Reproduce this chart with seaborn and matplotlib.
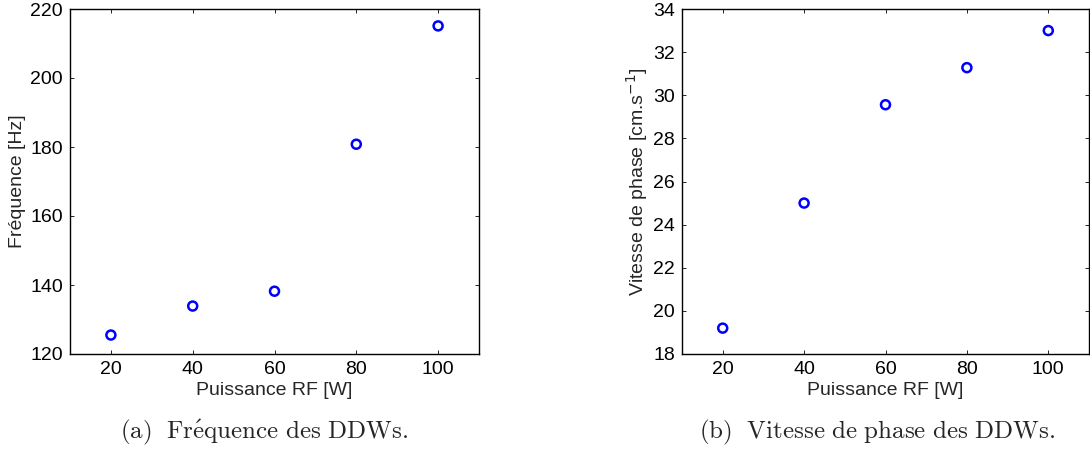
import matplotlib
matplotlib.use("Agg")
import matplotlib.pyplot as plt
import seaborn as sns
import pandas as pd

# donnees
puissance = [20, 40, 60, 80, 100]
frequence = [125.5, 133.9, 138.2, 180.8, 215.1]
vitesse = [19.2, 25.0, 29.56, 31.28, 33.0]

sns.set_style("ticks")
plt.rcParams["font.family"] = ["Liberation Sans", "DejaVu Sans"]
plt.rcParams.update({
    "xtick.direction": "in", "ytick.direction": "in",
    "xtick.top": True, "ytick.right": True,
    "xtick.major.size": 3, "ytick.major.size": 3,
    "xtick.major.width": 0.6, "ytick.major.width": 0.6,
    "axes.linewidth": 1.0, "axes.edgecolor": "black",
    "xtick.color": "black", "ytick.color": "black",
    "font.size": 14,
})

df = pd.DataFrame({"P": puissance, "f": frequence, "v": vitesse})

fig = plt.figure(figsize=(10.9, 4.51), dpi=100)
ax1 = fig.add_axes([70 / 1090, 97 / 451, 409 / 1090, 345 / 451])
ax2 = fig.add_axes([682 / 1090, 97 / 451, 407 / 1090, 345 / 451])

for ax, col in [(ax1, "f"), (ax2, "v")]:
    sns.scatterplot(data=df, x="P", y=col, ax=ax, marker="o", s=42,
                    facecolors="none", edgecolor="#0000ff", linewidth=1.8)
    ax.set_xlim(10, 110)
    ax.set_xticks(puissance)
    ax.tick_params(labelsize=14, pad=5)
    ax.set_xlabel("Puissance RF [W]", fontsize=14, labelpad=3)

ax1.set_ylim(120, 220)
ax1.set_yticks(range(120, 221, 20))
ax1.set_ylabel("Fréquence [Hz]", fontsize=14, labelpad=3)

ax2.set_ylim(18, 34)
ax2.set_yticks(range(18, 35, 2))
ax2.set_ylabel(r"Vitesse de phase [cm.s$^{-1}$]", fontsize=14, labelpad=2)

cap = dict(ha="center", va="center", fontsize=18, math_fontfamily="cm")
fig.text(264 / 1090, 19 / 451, r"$\mathrm{(a)\ \ Fr\'equence\ des\ DDWs.}$", **cap)
fig.text(877 / 1090, 19 / 451, r"$\mathrm{(b)\ \ Vitesse\ de\ phase\ des\ DDWs.}$", **cap)

fig.savefig("out.png", dpi=100)
